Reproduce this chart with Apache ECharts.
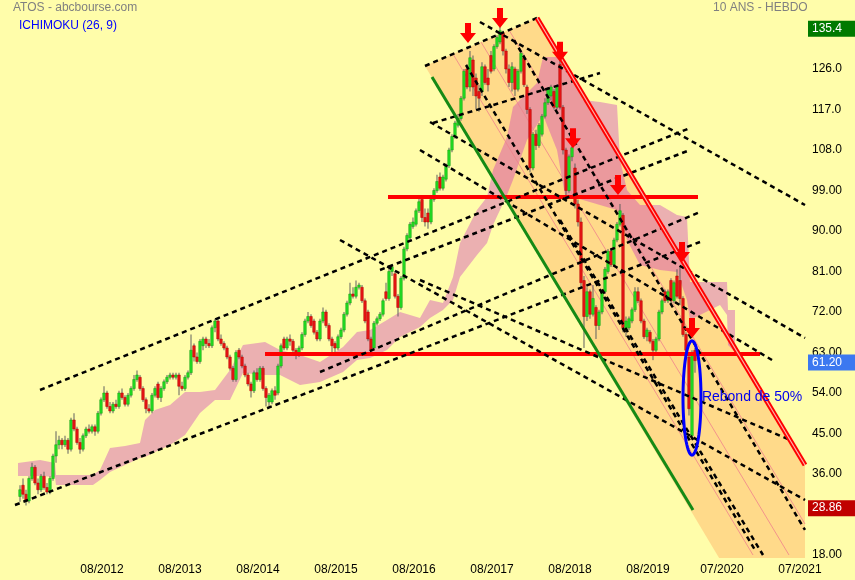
<!DOCTYPE html>
<html><head><meta charset="utf-8">
<script src="https://cdn.jsdelivr.net/npm/echarts@6/dist/echarts.min.js"></script>
<style>html,body{margin:0;padding:0;background:#fffdaa;}#c{width:855px;height:580px;}</style>
</head><body><div id="c"></div>
<script>
// x unit = bar index (one bar = two weeks), y = price in EUR
const opens = [31.0,33.5,31.5,30.0,35.0,37.5,34.0,32.5,35.5,33.0,32.0,35.0,40.0,42.5,43.5,42.5,43.5,41.5,48.0,46.0,43.0,41.5,44.5,46.0,45.5,46.5,45.5,49.5,52.5,54.0,51.0,50.0,51.5,51.0,54.0,53.0,51.5,53.5,55.0,57.0,57.5,55.0,52.5,50.5,50.0,53.5,56.0,53.0,55.0,56.5,57.5,58.0,57.5,58.0,55.5,55.0,57.5,58.5,64.5,62.0,61.0,64.5,66.0,65.0,64.5,68.5,70.0,66.0,65.0,64.0,62.0,59.5,57.0,63.5,62.0,60.0,58.0,56.0,54.5,58.5,57.0,59.5,55.0,52.0,52.0,54.5,54.0,60.0,66.0,64.0,66.0,65.5,63.5,62.5,64.0,67.0,70.0,71.0,70.0,67.5,66.0,70.0,72.0,69.0,66.0,65.0,64.0,66.5,68.0,71.5,74.0,76.0,75.5,77.5,77.5,74.5,72.0,66.0,64.0,69.5,70.5,71.5,76.5,75.0,81.0,80.5,75.5,73.0,79.5,86.0,88.5,91.0,91.5,94.5,97.0,93.0,94.0,92.0,97.0,99.0,102.0,99.5,101.5,104.5,108.0,111.0,113.5,115.0,119.5,126.0,122.0,128.0,124.0,121.0,121.0,126.5,124.0,129.0,126.0,131.0,132.0,134.0,130.0,126.0,123.0,126.0,121.5,125.5,128.5,122.0,117.0,104.0,111.5,109.0,111.5,115.5,118.5,120.0,121.0,117.5,127.0,117.5,108.0,99.0,106.5,104.0,96.0,92.0,79.0,71.0,76.5,71.5,73.0,69.0,72.0,76.5,81.0,85.5,82.5,88.0,91.5,93.5,68.0,68.5,70.0,72.5,76.5,74.5,70.0,66.5,67.5,65.5,63.5,66.0,72.0,76.5,74.5,79.0,74.5,80.0,79.0,75.0,67.0,62.0,44.5,63.5];
const closes = [32.5,31.5,30.0,35.0,37.5,34.0,32.5,35.5,33.0,32.0,35.0,40.0,42.5,43.5,42.5,43.5,41.5,48.0,46.0,43.0,41.5,44.5,46.0,45.5,46.5,45.5,49.5,52.5,54.0,51.0,50.0,51.5,51.0,54.0,53.0,51.5,53.5,55.0,57.0,58.0,55.0,52.5,50.5,50.0,53.5,55.0,53.0,55.0,56.5,57.5,58.0,57.5,58.0,55.5,55.0,57.5,58.5,63.5,62.0,61.0,65.5,66.0,65.0,64.5,68.5,70.0,66.0,65.0,64.0,62.0,59.5,57.0,63.0,62.0,60.0,58.0,56.0,54.5,58.5,57.0,59.5,55.0,53.0,53.5,54.5,53.5,60.0,64.5,64.0,66.0,65.5,63.5,62.5,64.0,67.0,70.0,71.0,69.0,67.5,66.0,70.0,72.0,69.0,66.0,64.5,64.0,66.5,68.0,71.5,74.0,76.0,75.5,77.5,78.0,74.5,70.0,66.0,63.5,69.5,70.5,71.5,74.5,75.0,81.0,82.0,75.5,73.0,79.5,86.0,89.0,91.5,92.0,94.5,96.5,93.0,92.0,92.0,97.0,99.0,101.0,99.5,102.0,104.5,108.0,111.0,114.0,115.0,119.5,125.5,122.0,128.5,122.0,120.0,119.5,126.5,123.0,122.5,125.5,131.0,133.0,134.5,130.0,126.0,123.0,126.5,121.5,125.5,129.5,122.5,117.0,104.0,111.5,109.0,113.5,115.5,118.5,121.5,122.0,117.5,122.0,117.5,108.0,99.0,106.5,108.5,96.0,92.0,78.5,71.0,76.5,71.5,75.0,69.0,72.0,76.5,81.5,85.5,82.5,88.0,91.5,94.5,68.5,70.0,70.5,72.5,76.5,74.5,70.0,66.5,68.0,65.5,63.5,66.0,72.0,74.5,74.5,76.5,74.5,78.5,75.5,75.0,67.0,63.5,50.5,62.5,61.2];
const lows = [29.8,30.5,29.0,29.5,34.5,33.5,31.5,32.0,32.5,31.5,31.5,34.5,38.5,41.5,41.5,42.0,40.5,41.0,45.5,42.5,40.5,41.0,44.0,45.0,45.0,44.5,45.0,49.0,52.0,50.5,49.5,49.5,50.5,50.5,52.5,51.0,51.0,53.0,54.5,56.5,54.5,52.0,49.5,49.5,49.5,53.0,52.5,52.0,54.5,56.0,57.0,57.0,57.0,53.5,54.5,54.5,57.0,58.0,61.0,60.5,60.5,63.5,64.0,64.0,64.0,67.5,65.5,64.5,63.5,61.5,59.0,56.5,56.5,61.5,59.5,57.5,55.5,53.0,54.0,56.5,56.5,54.5,51.0,51.0,51.5,52.5,53.5,59.5,63.5,63.5,64.5,62.5,61.5,62.0,63.5,66.5,69.5,68.5,67.0,65.5,65.5,69.5,68.5,65.5,63.0,63.0,63.5,66.0,67.5,71.0,73.5,75.0,75.0,77.0,74.0,69.5,65.5,62.5,63.5,69.0,70.0,71.0,74.5,74.5,80.0,75.0,71.0,72.5,79.0,85.5,88.0,90.5,91.0,94.0,92.0,91.0,90.5,91.5,96.5,98.5,99.0,99.0,101.0,104.0,107.5,110.5,113.0,114.5,119.0,121.5,121.0,120.0,117.0,116.5,120.0,122.5,121.0,125.0,125.5,130.5,131.5,129.0,125.0,122.0,121.0,120.0,121.0,125.0,122.0,116.0,103.0,103.5,108.0,108.5,111.0,115.0,118.0,119.0,117.0,117.0,117.0,107.0,98.0,98.5,105.5,95.0,91.0,77.5,64.0,70.0,70.5,71.0,66.0,68.0,71.5,76.0,80.5,82.0,82.0,87.5,91.0,67.5,66.5,68.0,69.5,72.0,74.0,69.5,66.0,65.5,65.0,61.3,63.0,65.5,71.5,74.0,74.0,74.0,74.0,75.0,73.5,66.5,62.5,49.0,43.5,58.5];
const highs = [33.5,35.0,32.5,35.5,38.5,38.0,35.0,36.0,36.5,34.0,35.5,40.5,45.5,44.5,44.0,44.5,44.0,48.5,49.5,46.5,44.0,45.0,46.5,47.0,47.0,47.0,50.0,53.0,55.5,54.5,52.0,52.0,52.5,54.5,55.0,53.5,54.0,55.5,58.0,59.0,58.0,55.5,53.0,51.5,54.0,55.5,56.5,55.5,57.0,58.0,58.5,58.5,58.5,58.5,56.5,58.0,59.0,67.0,65.0,63.0,66.0,66.5,66.5,66.0,69.0,70.5,70.5,67.0,65.5,64.5,62.5,60.0,63.5,64.0,62.5,60.5,58.5,56.5,59.0,59.5,60.0,60.0,55.5,54.0,55.0,55.5,60.5,65.0,66.5,66.5,67.0,66.0,64.0,64.5,67.5,70.5,72.0,71.5,70.5,68.0,70.5,73.0,72.5,69.5,66.5,65.5,67.0,68.5,72.0,74.5,78.5,77.5,79.0,78.5,78.0,75.0,72.5,66.5,70.0,71.0,72.0,75.0,78.5,82.0,82.5,81.0,76.0,80.0,86.5,89.5,92.0,93.0,95.0,98.0,97.5,95.0,95.0,97.5,99.5,102.5,103.0,102.5,105.0,108.5,111.5,114.5,116.0,120.0,126.0,127.0,130.0,129.0,125.0,122.5,127.5,127.0,126.0,130.0,131.5,133.5,135.4,134.5,130.5,127.0,127.5,126.5,126.0,130.0,129.0,122.5,117.5,112.0,112.5,114.0,116.0,119.5,122.0,122.5,121.5,122.5,128.5,118.0,108.5,107.0,110.0,105.0,97.0,93.0,80.0,77.5,77.0,78.0,73.5,72.5,77.0,82.0,86.0,86.0,88.5,92.0,96.0,94.0,71.0,71.0,73.0,77.5,77.5,75.0,70.5,68.5,68.0,66.0,66.5,72.5,75.0,77.0,77.0,79.5,79.0,81.5,82.0,75.5,67.5,63.0,63.5,64.0];

// Ichimoku cloud (senkou spans), x in bar units
const cloudX   = [-0.67,6.67,11.67,12,24.33,26.67,30,35,40,41.67,45,50,55,60,65,70,74.33,81.67,86.67,93.33,100,107.67,112.33,116.67,122.33,126.67,133.33,136.67,141,144.33,146.67,152.33,155.67,157.67,162.33,164.33,169,172.33,174.33,179,181.67,187.67,193.33,199,200,202.33,206.67,213.33,219,222.33,223.33,233.33,235.67,236,238.33];
const cloudTop = [38.44,39.11,38.44,35.78,35.78,36.89,41.78,42.22,42.89,48.0,50.22,51.33,54.22,54.22,54.67,59.11,64.67,65.33,63.56,62.44,60.89,64.22,67.56,68.0,70.22,72.0,70.67,74.67,74.0,79.78,87.33,94.67,97.56,103.56,110.89,117.56,120.67,122.89,128.67,128.67,127.33,119.11,118.67,118.0,105.78,99.11,95.78,95.78,93.56,93.11,78.67,78.67,78.67,72.44,72.44];
const cloudBot = [35.56,35.56,35.33,33.56,33.56,34.67,36.44,38.0,39.56,39.78,40.89,42.44,44.67,49.56,52.44,52.44,58.44,58.0,58.0,55.78,56.44,58.67,61.33,61.78,63.56,66.44,68.67,70.67,72.44,74.67,79.78,84.67,87.33,91.33,98.0,101.33,110.22,113.56,115.78,108.0,98.0,96.89,95.78,94.67,93.56,88.0,82.44,81.33,80.89,74.67,70.22,73.56,71.33,64.67,63.11];

// descending channel (x, price)
const channelX = [135,172.33,261.67,261.67,233.33];
const channelY = [126.67,137.33,38.0,17.0,17.0];
const redLine   = [172.33,137.33,261.67,38.0];
const greenLine = [137.33,124.22,224.33,28.0];
const innerLines = [[144.33,129.33,244.33,18.0],[153.67,132.0,256.33,18.0],[163,134.67,261.67,24.89]];
const levels = [[122.67,97.56,226,97.56],[81.67,62.67,246.67,62.67]];
const dottedLines = [
 [6.67,54.67,223.33,112.89],[-1.67,29.11,226.67,87.56],[100,58.67,226.67,94.22],[135,126.67,172.33,137.33],
 [137.67,114.0,193.33,125.11],[120,81.33,223.33,108.0],
 [153.33,136.44,261.67,95.78],[136.67,114.22,261.67,66.22],[133.33,108.0,250.67,61.33],[106.67,88.0,261.67,30.22],[133.33,79.11,256.67,43.56],
 [148.67,126.89,245,19.11],[164.67,132.44,261.67,23.56],[180,92.44,247.67,18.0]
];
const arrowX = [149.33,160,180,184.33,199.33,220.67,224];
const arrowY = [131.8,135.1,127.6,108.4,98.0,83.1,66.2];
const ellipse = {x:224, y:52.9, rx:3, ry:12.7};
const note = {x:227.3, y:53.1, text:'Rebond de 50%'};
const tagValues = [135.4,61.2,28.86];
const tagTexts = ['135.4','61.20','28.86'];
const tagColors = ['#007a00','#3c78f0','#c00000'];
const xTickVals = [27.33,53.33,79.33,105.33,131.33,157.33,183.33,209.33,234,260];
const xTickLabels = ['08/2012','08/2013','08/2014','08/2015','08/2016','08/2017','08/2018','08/2019','07/2020','07/2021'];
const yTickVals = [18,36,45,54,63,72,81,90,99,108,117,126];
const yTickLabels = ['18.00','36.00','45.00','54.00','63.00','72.00','81.00','90.00','99.00','108.0','117.0','126.0'];
const X_MIN = -6.667, X_MAX = 262.667;

const FONT = 'Arial, "Liberation Sans", sans-serif';
const chart = echarts.init(document.getElementById('c'), null, {renderer:'canvas'});

function polygonSeries(xs, ys, fill, z){
  return {type:'custom', z:z, silent:true, data:[[0]], clip:true,
    renderItem:(p,api)=>({type:'polygon', shape:{points: xs.map((x,i)=>api.coord([x,ys[i]]))}, style:{fill:fill, stroke:'none'}})};
}
function segSeries(list, stroke, width, dash, z){
  return {type:'custom', z:z, silent:true, clip:true, data:list,
    renderItem:(p,api)=>{const a=api.coord([api.value(0),api.value(1)]), b=api.coord([api.value(2),api.value(3)]);
      return {type:'line', shape:{x1:a[0],y1:a[1],x2:b[0],y2:b[1]}, style:{stroke:stroke, lineWidth:width, lineDash:dash||null, lineCap:'butt'}};}};
}
const cloudPolyX = cloudX.concat(cloudX.slice().reverse());
const cloudPolyY = cloudTop.concat(cloudBot.slice().reverse());
const candleData = opens.map((o,i)=>[i,o,closes[i],lows[i],highs[i]]);

const option = {
  backgroundColor:'#fffdaa',
  animation:false,
  grid:{left:0,right:47,top:15,bottom:22,containLabel:false,outerBoundsMode:'none'},
  xAxis:{type:'value',min:X_MIN,max:X_MAX,axisLine:{show:false},axisTick:{show:false},splitLine:{show:false},
    axisLabel:{customValues:xTickVals,color:'#000',fontFamily:FONT,fontSize:12,margin:6,
      formatter:v=>{let k=0;xTickVals.forEach((t,i)=>{if(Math.abs(t-v)<Math.abs(xTickVals[k]-v))k=i;});return xTickLabels[k];}}},
  yAxis:{type:'value',position:'right',min:17.333,max:138,axisLine:{show:false},axisTick:{show:false},splitLine:{show:false},
    axisLabel:{customValues:yTickVals,color:'#000',fontFamily:FONT,fontSize:12,margin:4,align:'left',
      formatter:v=>{let k=0;yTickVals.forEach((t,i)=>{if(Math.abs(t-v)<Math.abs(yTickVals[k]-v))k=i;});return yTickLabels[k];}}},
  graphic:[
    {type:'text',left:13,top:2,style:{text:'ATOS - abcbourse.com',fill:'#808080',font:'12px '+FONT}},
    {type:'text',left:19,top:20,style:{text:'ICHIMOKU (26, 9)',fill:'#0000ff',font:'12px '+FONT}},
    {type:'text',left:713,top:2,style:{text:'10 ANS - HEBDO',fill:'#808080',font:'12px '+FONT}}
  ],
  series:[
    polygonSeries(channelX, channelY, 'rgba(255,170,95,0.42)', 1),
    polygonSeries(cloudPolyX, cloudPolyY, 'rgba(200,40,190,0.36)', 2),
    segSeries(innerLines, 'rgba(240,130,140,0.8)', 1, null, 3),
    {type:'custom', z:5, clip:true, data:candleData, encode:{x:0,y:[1,2,3,4]},
      renderItem:(p,api)=>{
        const i=api.value(0),o=api.value(1),c=api.value(2),l=api.value(3),h=api.value(4);
        const po=api.coord([i,o]),pc=api.coord([i,c]),pl=api.coord([i,l]),ph=api.coord([i,h]);
        const w=api.size([1,0])[0]*0.85, up=c>=o;
        const top=Math.min(po[1],pc[1]), hh=Math.max(Math.abs(po[1]-pc[1]),1);
        return {type:'group',children:[
          {type:'line',shape:{x1:pl[0],y1:pl[1],x2:ph[0],y2:ph[1]},style:{stroke:'#606060',lineWidth:1}},
          {type:'rect',shape:{x:po[0]-w/2,y:top,width:w,height:hh},style:{fill:up?'#22dd22':'#e81515',stroke:up?'#149a14':'#b00000',lineWidth:0.5}}
        ]};
      }},
    segSeries(levels, '#ff0000', 4, null, 6),
    segSeries(dottedLines, '#000', 2.5, [5,4], 7),
    segSeries([redLine], '#ff0000', 5, null, 8),
    segSeries([redLine], 'rgba(255,200,190,0.9)', 1.2, null, 9),
    segSeries([greenLine], '#158a15', 3, null, 8),
    {type:'scatter', z:10, silent:true, clip:true, data:arrowX.map((x,i)=>[x,arrowY[i]]),
      symbol:'path://M5,0L11,0L11,10L16,10L8,20L0,10L5,10Z', symbolSize:[16,20], symbolOffset:[0,-10],
      itemStyle:{color:'#ff0000',opacity:1}},
    {type:'custom', z:11, silent:true, clip:false, data:[[0]],
      renderItem:(p,api)=>{
        const pts=[];for(let k=0;k<=72;k++){const a=k/72*Math.PI*2;pts.push(api.coord([ellipse.x+ellipse.rx*Math.cos(a),ellipse.y+ellipse.ry*Math.sin(a)]));}
        const tp=api.coord([note.x,note.y]);
        return {type:'group',children:[
          {type:'polyline',shape:{points:pts},style:{stroke:'#0000ff',lineWidth:3,fill:'none'}},
          {type:'text',x:tp[0],y:tp[1],style:{text:note.text,fill:'#0000ee',font:'14px '+FONT,textVerticalAlign:'middle',textAlign:'left'}}
        ]};
      }},
    {type:'custom', z:12, silent:true, clip:false, data:tagValues.map((v,i)=>[X_MAX,v,i]),
      renderItem:(p,api)=>{
        const i=api.value(2), pt=api.coord([api.value(0),api.value(1)]);
        return {type:'group',children:[
          {type:'rect',shape:{x:pt[0],y:pt[1]-6,width:47,height:16},style:{fill:tagColors[i]}},
          {type:'text',x:pt[0]+4,y:pt[1]+2,style:{text:tagTexts[i],fill:'#fff',font:'12px '+FONT,textVerticalAlign:'middle'}}
        ]};
      }}
  ]
};
chart.setOption(option);
</script></body></html>
